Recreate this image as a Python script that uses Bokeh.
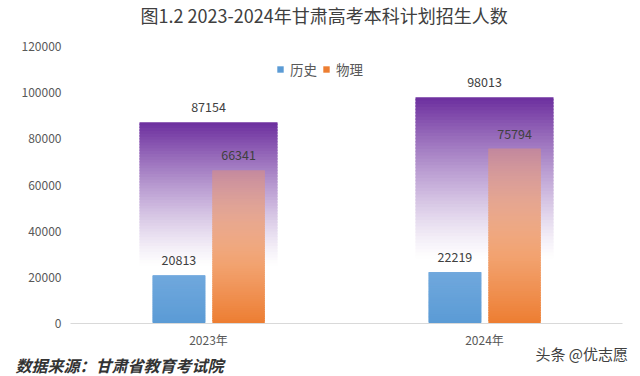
from bokeh.plotting import figure
from bokeh.layouts import column
from bokeh.models import (ColumnDataSource, FactorRange, Range1d, FixedTicker,
                          Legend, LegendItem, NumeralTickFormatter, Title, Div)
from bokeh.transform import dodge
from bokeh.core.properties import value
from bokeh.embed import file_html
from bokeh.resources import INLINE

# ---------------- data ----------------
years = ["2023年", "2024年"]
total = [87154, 98013]
history = [20813, 22219]
physics = [66341, 75794]
series_names = ["历史", "物理"]
y_ticks = [0, 20000, 40000, 60000, 80000, 100000, 120000]
title_text = "图1.2 2023-2024年甘肃高考本科计划招生人数"
source_text = "数据来源：甘肃省教育考试院"
credit_text = "头条 @优志愿"

FONT = "Noto Sans CJK SC"
N = 70
OVERLAP = 700  # data units each slice extends over the next one (hides seams)


def hexc(rgb):
    return "#%02x%02x%02x" % tuple(int(round(max(0, min(255, c)))) for c in rgb)


def mix(a, b, t):
    return tuple(a[i] + (b[i] - a[i]) * t for i in range(3))


WHITE = (255, 255, 255)
PURPLE = (108, 46, 158)
ORANGE = (237, 125, 49)
ORANGE_L = (240, 150, 100)
BLUE = (91, 155, 213)
BLUE_L = (112, 168, 221)


def total_rgb(f):
    t = max(0.0, (f - 0.28) / 0.72)
    return mix(WHITE, PURPLE, t ** 1.25)


def gradient_source(cats, vals, color_fn):
    xs, bots, tops, cols = [], [], [], []
    for k, (c, v) in enumerate(zip(cats, vals)):
        for i in range(N):
            f = (i + 0.5) / N
            xs.append(c)
            bots.append(v * i / N)
            tops.append(min(v, v * (i + 1) / N + OVERLAP))
            cols.append(hexc(color_fn(k, v, f)))
    return ColumnDataSource(dict(x=xs, bottom=bots, top=tops, color=cols))


def total_color(k, v, f):
    return total_rgb(f)


def phys_color(k, v, f):
    # orange, fading towards the top, over the purple gradient behind it
    back = total_rgb(v * f / total[k])
    alpha = 1.0 - 0.6 * f
    return mix(back, mix(ORANGE, ORANGE_L, f), alpha)


def hist_color(k, v, f):
    return mix(BLUE, BLUE_L, f)


SHIFT = 30  # plot drawn taller and pulled up, so the title can sit higher

p = figure(width=640, height=376 + SHIFT, output_backend="svg", toolbar_location=None,
           x_range=FactorRange(factors=years, range_padding=0),
           y_range=Range1d(0, 120000),
           min_border_left=70, min_border_right=18,
           min_border_top=46 + SHIFT, min_border_bottom=53)
p.margin = (-SHIFT, 0, 0, 0)
p.title.text = title_text
p.title.align = "left"
p.title.offset = 70
p.title.standoff = 38
p.title.text_font = FONT
p.title.text_font_size = "18px"
p.title.text_font_style = "normal"
p.title.text_color = "#404040"
p.outline_line_color = None
p.background_fill_color = "white"
p.border_fill_alpha = 0
p.xgrid.grid_line_color = None
p.ygrid.grid_line_color = None

# total bars (purple gradient)
src_total = gradient_source(years, total, total_color)
p.vbar(x=dodge("x", 0.0, range=p.x_range), width=0.5, bottom="bottom", top="top",
       source=src_total, fill_color="color", line_color=None)

# history bars
src_hist = gradient_source(years, history, hist_color)
r_hist = p.vbar(x=dodge("x", -0.107, range=p.x_range), width=0.19, bottom="bottom", top="top",
                source=src_hist, fill_color="color", line_color=None)

# physics bars
src_phys = gradient_source(years, physics, phys_color)
r_phys = p.vbar(x=dodge("x", 0.109, range=p.x_range), width=0.19, bottom="bottom", top="top",
                source=src_phys, fill_color="color", line_color=None)

# value labels
lab = ColumnDataSource(dict(x=years, total=total, history=history, physics=physics,
                            t_total=[str(v) for v in total],
                            t_hist=[str(v) for v in history],
                            t_phys=[str(v) for v in physics]))
for off, col, txt in [(0.0, "total", "t_total"), (-0.107, "history", "t_hist"),
                      (0.109, "physics", "t_phys")]:
    p.text(x=dodge("x", off, range=p.x_range), y=col, text=txt, source=lab,
           text_align="center", text_baseline="middle", y_offset=-15,
           text_font=value(FONT), text_font_size="12.5px", text_color="#404040")

# axes
p.yaxis.ticker = FixedTicker(ticks=y_ticks)
p.yaxis.formatter = NumeralTickFormatter(format="0")
p.yaxis.axis_line_color = None
p.yaxis.major_tick_line_color = None
p.yaxis.minor_tick_line_color = None
p.yaxis.major_label_standoff = 3
p.yaxis.major_label_text_font = FONT
p.yaxis.major_label_text_font_size = "12px"
p.yaxis.major_label_text_color = "#595959"

p.xaxis.axis_line_color = "#d9d9d9"
p.xaxis.major_tick_line_color = None
p.xaxis.minor_tick_line_color = None
p.xaxis.major_label_standoff = 1
p.xaxis.major_label_text_font = FONT
p.xaxis.major_label_text_font_size = "12px"
p.xaxis.major_label_text_line_height = 0.9
p.xaxis.major_label_text_color = "#595959"

# legend
legend = Legend(items=[LegendItem(label=series_names[0], renderers=[r_hist], index=0),
                       LegendItem(label=series_names[1], renderers=[r_phys], index=0)],
                orientation="horizontal", location=(206, 244),
                glyph_width=8, glyph_height=8, label_standoff=6, spacing=5,
                padding=0, margin=0, border_line_color=None,
                background_fill_alpha=0,
                label_text_font=FONT, label_text_font_size="13.5px",
                label_text_color="#595959")
p.add_layout(legend)

# footer: data source (left)
foot = Title(text=source_text, align="left", offset=-55, standoff=0,
             text_font=FONT, text_font_size="16px", text_font_style="bold italic",
             text_color="#333333")
p.add_layout(foot, "below")

# credit (right), overlaid on the bottom-right corner of the chart
credit = Div(text=credit_text, width=110, height=20, margin=(-32, 0, 0, 518),
             styles={"font-family": FONT, "font-size": "15px", "color": "#404040",
                     "line-height": "20px", "text-align": "right",
                     "white-space": "nowrap"})

layout = column(p, credit, spacing=0)
open("out.html", "w").write(file_html(layout, INLINE))
